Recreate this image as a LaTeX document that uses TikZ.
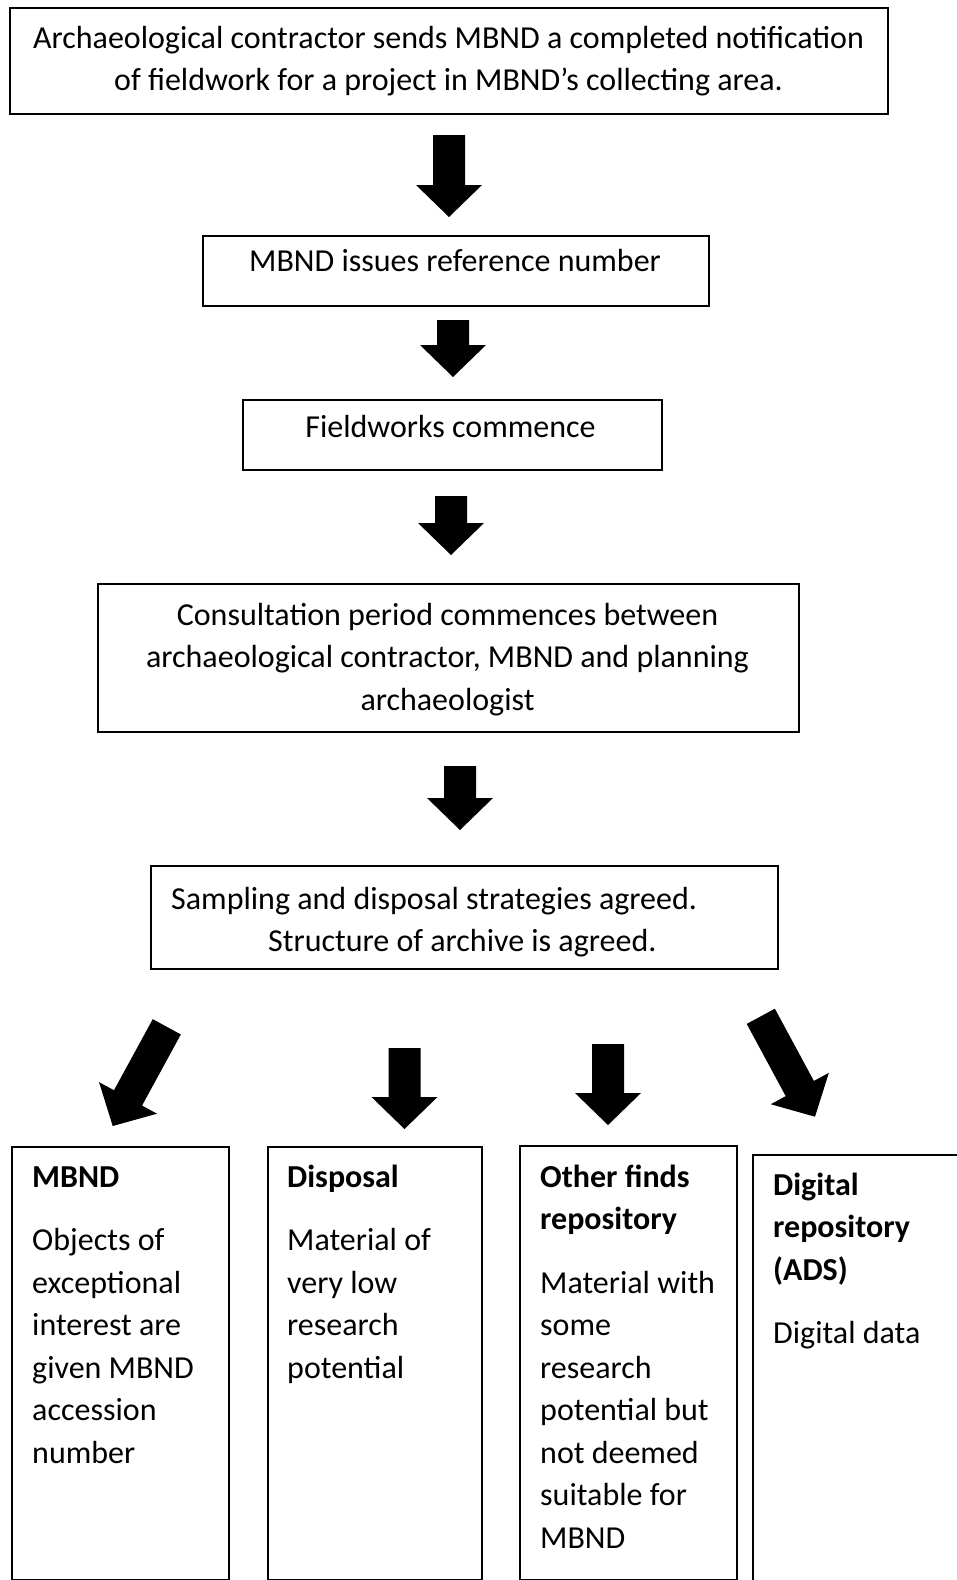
\documentclass[tikz,border=0pt]{standalone}
\usepackage{fontspec}
\setmainfont{Carlito}
\usetikzlibrary{calc}
\tikzset{
  box/.style={draw, line width=1.5pt, inner sep=0pt},
  txt/.style={font=\fontsize{32}{42.5}\selectfont, inner sep=0pt},
}
\newcommand\blockarr[2]{%
  \coordinate (#1-b) at ($(#2)!32pt!(#1)$);
  \fill ($(#1)!16pt!90:(#2)$) -- ($(#1-b)!16pt!90:(#2)$) -- ($(#1-b)!33pt!90:(#2)$)
     -- (#2) -- ($(#1-b)!33pt!-90:(#2)$) -- ($(#1-b)!16pt!-90:(#2)$)
     -- ($(#1)!16pt!-90:(#2)$) -- cycle;
}
\begin{document}
\begin{tikzpicture}[x=1pt,y=-1pt]
\useasboundingbox (0,0) rectangle (957,1580);
\clip (0,0) rectangle (957,1580);

% boxes
\node[box, anchor=north west, minimum width=878, minimum height=106] (b1) at (9,7) {};
\node[box, anchor=north west, minimum width=506, minimum height=70] (b2) at (202,235) {};
\node[box, anchor=north west, minimum width=419, minimum height=70] (b3) at (242,399) {};
\node[box, anchor=north west, minimum width=701, minimum height=148] (b4) at (97,583) {};
\node[box, anchor=north west, minimum width=627, minimum height=103] (b5) at (150,865) {};
\node[box, anchor=north west, minimum width=217, minimum height=433] (bA) at (11,1146) {};
\node[box, anchor=north west, minimum width=214, minimum height=433] (bB) at (267,1146) {};
\node[box, anchor=north west, minimum width=217, minimum height=434] (bC) at (519,1145) {};
\node[box, anchor=north west, minimum width=260, minimum height=450] (bD) at (752,1154) {};

% texts
\node[txt, anchor=base] (t1) at (448.5,48) {\begin{tabular}[t]{@{}c@{}}Archaeological contractor sends MBND a completed notification\\ of fieldwork for a project in MBND’s collecting area.\end{tabular}};
\node[txt, anchor=base] (t2) at (455,271) {MBND issues reference number};
\node[txt, anchor=base] (t3) at (450.5,437) {Fieldworks commence};
\node[txt, anchor=base] (t4) at (447.5,625) {\begin{tabular}[t]{@{}c@{}}Consultation period commences between\\ archaeological contractor, MBND and planning\\ archaeologist\end{tabular}};
\node[txt, anchor=base west] (t5) at (171,909) {\begin{tabular}[t]{@{}l@{}}Sampling and disposal strategies agreed.\\ \hspace*{97pt}Structure of archive is agreed.\end{tabular}};
\node[txt, anchor=base west] (tA) at (32,1187) {\begin{tabular}[t]{@{}l@{}}\textbf{MBND}\\[21pt] Objects of\\ exceptional\\ interest are\\ given MBND\\ accession\\ number\end{tabular}};
\node[txt, anchor=base west] (tB) at (287,1187) {\begin{tabular}[t]{@{}l@{}}\textbf{Disposal}\\[21pt] Material of\\ very low\\ research\\ potential\end{tabular}};
\node[txt, anchor=base west] (tC) at (540,1187) {\begin{tabular}[t]{@{}l@{}}\textbf{Other finds}\\ \textbf{repository}\\[21pt] Material with\\ some\\ research\\ potential but\\ not deemed\\ suitable for\\ MBND\end{tabular}};
\node[txt, anchor=base west] (tD) at (773,1195) {\begin{tabular}[t]{@{}l@{}}\textbf{Digital}\\ \textbf{repository}\\ \textbf{(ADS)}\\[21pt] Digital data\end{tabular}};

% arrow end points
\coordinate (a1t) at (449,135);   \coordinate (a1h) at (449,217);
\coordinate (a2t) at (453,320);   \coordinate (a2h) at (453,377);
\coordinate (a3t) at (451,496);   \coordinate (a3h) at (451,555);
\coordinate (a4t) at (460,766);   \coordinate (a4h) at (460,830);
\coordinate (c1t) at (166.8,1026.8); \coordinate (c1h) at (112.7,1126);
\coordinate (c2t) at (404.5,1048);   \coordinate (c2h) at (404.5,1129);
\coordinate (c3t) at (608,1044);     \coordinate (c3h) at (608,1125);
\coordinate (c4t) at (760.8,1016.3); \coordinate (c4h) at (815,1116.7);

\blockarr{a1t}{a1h}
\blockarr{a2t}{a2h}
\blockarr{a3t}{a3h}
\blockarr{a4t}{a4h}
\blockarr{c1t}{c1h}
\blockarr{c2t}{c2h}
\blockarr{c3t}{c3h}
\blockarr{c4t}{c4h}
\end{tikzpicture}
\end{document}
